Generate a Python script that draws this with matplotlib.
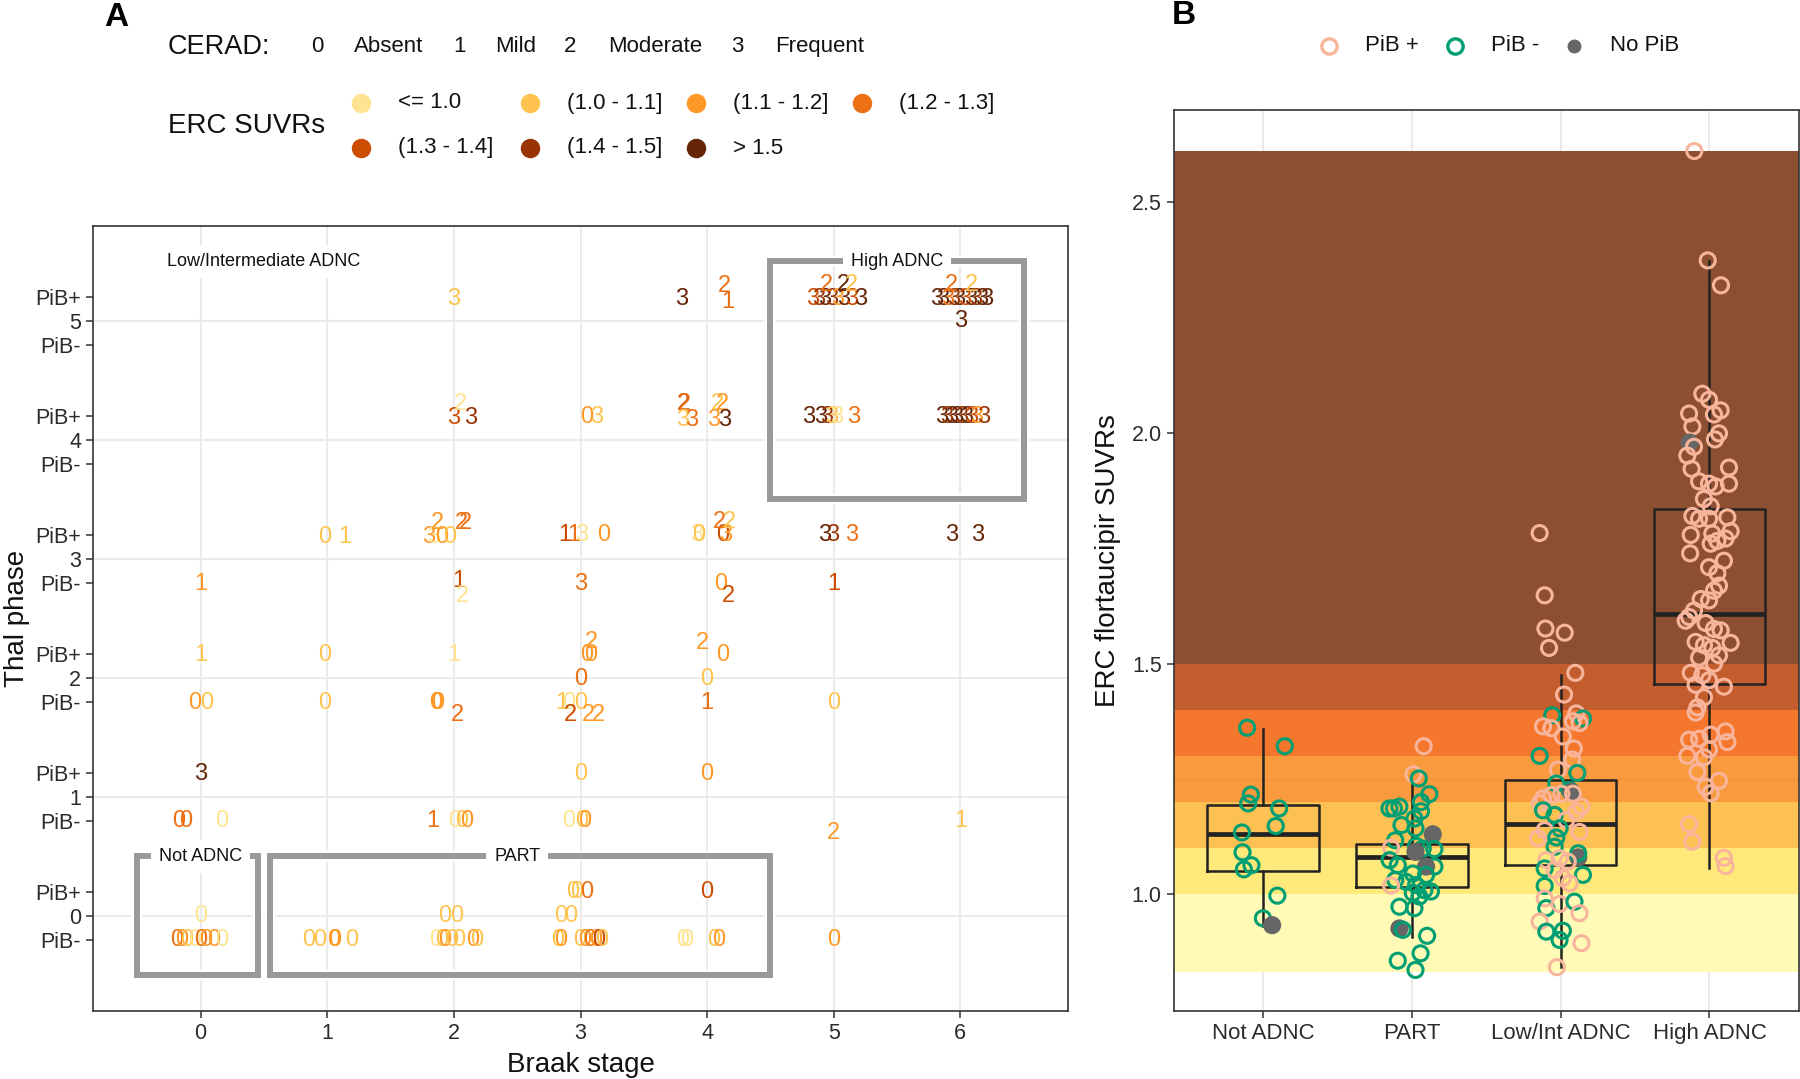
import matplotlib
matplotlib.use('Agg')
import matplotlib.pyplot as plt
from matplotlib.patches import Rectangle
from matplotlib.lines import Line2D

plt.rcParams['font.family'] = ['Liberation Sans', 'DejaVu Sans']

W, H = 1800, 1079

# ---------------- Panel A data ----------------
suvr_bins = ['<= 1.0', '(1.0 - 1.1]', '(1.1 - 1.2]', '(1.2 - 1.3]',
             '(1.3 - 1.4]', '(1.4 - 1.5]', '> 1.5']
suvr_colors = ['#FEE391', '#FEC44F', '#FE9929', '#EC7014',
               '#CC4C02', '#993404', '#662506']
cerad_codes = ['0', '1', '2', '3']
cerad_names = ['Absent', 'Mild', 'Moderate', 'Frequent']
braak_stages = [0, 1, 2, 3, 4, 5, 6]
thal_phases = [0, 1, 2, 3, 4, 5]

# jittered Braak stage, jittered Thal position (phase +0.2 PiB+, -0.2 PiB-), CERAD score, SUVR bin index
a_braak = [
    # Thal 5
    2.00, 3.80, 4.14, 4.16,
    4.83, 4.88, 4.93, 4.98, 5.03, 5.08, 5.14, 5.21, 4.94, 5.075, 5.14,
    5.81, 5.86, 5.90, 5.95, 5.99, 6.03, 6.08, 6.12, 6.17, 6.21, 5.93, 6.09, 6.00,
    # Thal 4
    2.00, 2.13, 2.05, 3.05, 3.13,
    3.81, 3.82, 3.81, 3.88, 4.08, 4.12, 4.05, 4.14,
    4.80, 4.90, 4.94, 4.98, 5.02, 5.16,
    5.85, 5.89, 5.93, 5.97, 6.01, 6.05, 6.09, 6.13, 6.18,
    # Thal 3
    0.98, 1.14, 1.80, 1.84, 1.90, 1.97, 1.87, 2.06, 2.09,
    2.88, 2.95, 3.01, 3.18, 3.92, 3.93, 4.12, 4.15, 4.10, 4.18,
    4.93, 4.99, 5.14, 5.93, 6.14,
    0.00, 2.04, 2.07, 3.00, 4.11, 4.17, 5.00,
    # Thal 2
    0.00, 0.98, 2.00, 3.09, 3.05, 3.08, 3.96, 4.12,
    3.00, 4.00,
    -0.05, 0.05, 0.98, 1.86, 1.87, 2.03, 2.85, 2.91, 3.00, 2.92, 3.06, 3.14, 4.00, 5.00,
    # Thal 1
    0.00, 3.00, 4.00,
    -0.17, -0.12, 0.17, 1.83, 2.01, 2.06, 2.10, 2.91, 3.01, 3.03, 5.00, 6.00,
    # Thal 0
    2.94, 2.97, 3.05, 4.00,
    0.00, 1.93, 2.02, 2.84, 2.92,
    -0.19, -0.15, -0.11, -0.05, 0.00, 0.04, 0.10, 0.17,
    0.85, 0.94, 1.05, 1.06, 1.19,
    1.86, 1.90, 1.93, 1.98, 2.04, 2.15, 2.18,
    2.82, 2.84, 2.99, 3.03, 3.07, 3.12, 3.14, 3.17,
    3.81, 3.84, 4.05, 4.09, 5.00,
]
a_thal = [
    5.18, 5.18, 5.29, 5.16,
    5.18, 5.18, 5.18, 5.18, 5.18, 5.18, 5.18, 5.18, 5.30, 5.30, 5.30,
    5.18, 5.18, 5.18, 5.18, 5.18, 5.18, 5.18, 5.18, 5.18, 5.18, 5.30, 5.30, 5.00,
    4.18, 4.18, 4.30, 4.19, 4.19,
    4.30, 4.30, 4.17, 4.17, 4.30, 4.30, 4.17, 4.17,
    4.19, 4.19, 4.19, 4.19, 4.19, 4.19,
    4.19, 4.19, 4.19, 4.19, 4.19, 4.19, 4.19, 4.19, 4.19,
    3.18, 3.18, 3.18, 3.18, 3.18, 3.18, 3.30, 3.30, 3.30,
    3.20, 3.20, 3.20, 3.20, 3.20, 3.20, 3.20, 3.20, 3.31, 3.31,
    3.20, 3.20, 3.20, 3.20, 3.20,
    2.79, 2.81, 2.69, 2.79, 2.79, 2.69, 2.79,
    2.19, 2.19, 2.19, 2.30, 2.19, 2.19, 2.29, 2.19,
    1.99, 1.99,
    1.79, 1.79, 1.79, 1.79, 1.79, 1.69, 1.79, 1.79, 1.79, 1.69, 1.69, 1.69, 1.79, 1.79,
    1.19, 1.19, 1.19,
    0.795, 0.795, 0.795, 0.795, 0.795, 0.795, 0.795, 0.795, 0.795, 0.795, 0.70, 0.795,
    0.20, 0.20, 0.20, 0.20,
    0.00, 0.00, 0.00, 0.00, 0.00,
    -0.20, -0.20, -0.20, -0.20, -0.20, -0.20, -0.20, -0.20,
    -0.20, -0.20, -0.20, -0.20, -0.20,
    -0.20, -0.20, -0.20, -0.20, -0.20, -0.20, -0.20,
    -0.20, -0.20, -0.20, -0.20, -0.20, -0.20, -0.20, -0.20,
    -0.20, -0.20, -0.20, -0.20, -0.20,
]
a_cerad = [
    3, 3, 2, 1,
    3, 3, 3, 3, 3, 3, 3, 3, 2, 2, 2,
    3, 3, 3, 3, 3, 3, 3, 3, 3, 3, 2, 2, 3,
    3, 3, 2, 0, 3,
    2, 2, 3, 3, 2, 2, 3, 3,
    3, 3, 3, 3, 3, 3,
    3, 3, 3, 3, 3, 3, 3, 3, 3,
    0, 1, 3, 3, 0, 0, 2, 2, 2,
    1, 1, 3, 0, 3, 0, 0, 3, 2, 2,
    3, 3, 3, 3, 3,
    1, 1, 2, 3, 0, 2, 1,
    1, 0, 1, 2, 0, 0, 2, 0,
    0, 0,
    0, 0, 0, 0, 0, 2, 1, 0, 0, 2, 2, 2, 1, 0,
    3, 0, 0,
    0, 0, 0, 1, 0, 0, 0, 0, 0, 0, 2, 1,
    0, 0, 0, 0,
    0, 0, 0, 0, 0,
    0, 0, 0, 0, 0, 0, 0, 0,
    0, 0, 0, 0, 0,
    0, 0, 0, 0, 0, 0, 0,
    0, 0, 0, 0, 0, 0, 0, 0,
    0, 0, 0, 0, 0,
]
a_bin = [
    1, 6, 3, 3,
    4, 5, 6, 5, 2, 6, 4, 6, 3, 6, 1,
    6, 6, 3, 5, 6, 4, 6, 5, 6, 6, 3, 1, 6,
    4, 5, 0, 2, 1,
    4, 3, 1, 3, 1, 2, 2, 6,
    6, 6, 5, 1, 0, 3,
    6, 5, 6, 6, 5, 6, 4, 2, 5,
    1, 1, 2, 0, 2, 1, 2, 3, 3,
    4, 3, 0, 2, 0, 1, 4, 2, 3, 1,
    6, 5, 3, 6, 6,
    2, 4, 0, 3, 2, 4, 4,
    1, 1, 0, 2, 2, 2, 2, 2,
    3, 1,
    2, 1, 1, 2, 2, 3, 1, 0, 1, 4, 2, 2, 3, 1,
    6, 1, 2,
    3, 3, 0, 3, 0, 1, 2, 0, 1, 2, 2, 1,
    1, 1, 3, 4,
    0, 1, 1, 1, 1,
    3, 2, 1, 0, 3, 2, 2, 0,
    1, 1, 2, 2, 1,
    0, 1, 2, 1, 1, 2, 1,
    1, 2, 1, 2, 3, 2, 4, 1,
    0, 0, 1, 2, 2,
]

# Neuropathology regions drawn as boxes: name, x0, x1, y0, y1, outline shown
region_names = ['Low/Intermediate ADNC', 'High ADNC', 'Not ADNC', 'PART']
region_x0 = [-0.5, 4.5, -0.5, 0.55]
region_x1 = [4.5, 6.5, 0.45, 4.5]
region_y0 = [0.5, 3.5, -0.5, -0.5]
region_y1 = [5.5, 5.5, 0.5, 0.5]
region_outline = [False, True, True, True]
region_label_x = [0.5, 5.5, 0.0, 2.5]

# ---------------- Panel B data ----------------
groups = ['Not ADNC', 'PART', 'Low/Int ADNC', 'High ADNC']
pib_names = ['PiB +', 'PiB -', 'No PiB']
pib_colors = ['#F9B59B', '#009E73', '#666666']

b_not_dx = [-0.106, 0.147, -0.081, -0.099, 0.109, 0.086, -0.141, -0.137, -0.077, -0.128, 0.097, 0.000, 0.062]
b_not_v = [1.361, 1.321, 1.216, 1.197, 1.186, 1.148, 1.134, 1.091, 1.063, 1.054, 0.997, 0.948, 0.933]
b_not_pib = [1, 1, 1, 1, 1, 1, 1, 1, 1, 1, 1, 1, 2]

b_part_dx = [0.080, 0.011, 0.047, 0.118, 0.062, -0.083, 0.062, 0.018, -0.069, 0.025, 0.141, -0.111,
             -0.139, 0.029, 0.074, 0.025, 0.152, -0.149, -0.094, 0.152, 0.096, 0.007, 0.096, -0.111,
             -0.038, -0.139, 0.029, 0.085, 0.129, 0.007, 0.051, -0.083, 0.018, -0.083, -0.060,
             0.103, 0.059, -0.094, 0.025, -0.120, -0.150]
b_part_v = [1.321, 1.260, 1.251, 1.217, 1.200, 1.190, 1.180, 1.164, 1.150, 1.143, 1.130, 1.117,
            1.101, 1.105, 1.099, 1.092, 1.098, 1.074, 1.063, 1.060, 1.060, 1.045, 1.042, 1.031,
            1.027, 1.019, 1.020, 1.009, 1.006, 1.003, 0.995, 0.973, 0.970, 0.926, 0.923,
            0.910, 0.872, 0.856, 0.836, 1.186, 1.186]
b_part_pib = [0, 0, 1, 1, 1, 1, 1, 1, 1, 1, 2, 1,
              0, 1, 1, 2, 1, 1, 1, 1, 2, 1, 1, 1,
              1, 0, 1, 1, 1, 1, 1, 1, 1, 2, 1,
              1, 1, 1, 1, 1, 1]

b_low_dx = [-0.141, -0.107, -0.102, 0.027, -0.078, 0.099, 0.023, -0.056, 0.105, 0.150, -0.118, -0.062,
            0.083, 0.127, 0.015, 0.089, -0.141, 0.078, -0.018, 0.112, -0.029, 0.060, 0.071, -0.118,
            -0.062, 0.005, 0.083, 0.140, -0.141, -0.118, 0.105, -0.040, 0.038, -0.007, -0.107, 0.127,
            -0.152, -0.029, -0.040, 0.118, 0.118, -0.096, -0.007, 0.048, -0.107, -0.040, 0.150, 0.015,
            0.060, -0.107, -0.107, -0.096, -0.007, 0.093, 0.127, -0.141, -0.096, 0.015, -0.007, 0.140,
            -0.025]
b_low_v = [1.783, 1.648, 1.576, 1.567, 1.534, 1.480, 1.433, 1.388, 1.392, 1.381, 1.364, 1.360,
           1.375, 1.371, 1.342, 1.316, 1.300, 1.292, 1.270, 1.263, 1.240, 1.226, 1.222, 1.208,
           1.215, 1.218, 1.218, 1.190, 1.197, 1.182, 1.179, 1.172, 1.161, 1.143, 1.139, 1.135,
           1.121, 1.123, 1.103, 1.080, 1.089, 1.074, 1.078, 1.071, 1.056, 1.053, 1.042, 1.035,
           1.024, 1.018, 0.991, 0.970, 0.979, 0.984, 0.959, 0.941, 0.919, 0.921, 0.901, 0.894,
           0.842]
b_low_pib = [0, 0, 0, 0, 0, 0, 0, 1, 0, 1, 0, 0,
             0, 0, 0, 0, 1, 0, 0, 1, 1, 1, 2, 0,
             0, 0, 0, 0, 0, 1, 0, 1, 0, 1, 0, 0,
             0, 1, 1, 2, 1, 0, 0, 0, 1, 0, 1, 0,
             0, 1, 0, 1, 0, 1, 0, 0, 1, 1, 1, 0,
             0]

b_high_dx = [-0.102, -0.012, 0.077, -0.048, -0.003, -0.137, 0.075, 0.030, -0.115, 0.064, 0.037, -0.133,
             -0.104, -0.149, 0.131, -0.120, 0.131, -0.070, -0.003, 0.041, -0.037, 0.008, -0.115, -0.070,
             0.120, -0.003, 0.142, -0.126, 0.019, 0.053, 0.108, 0.008, -0.130, 0.097, -0.003, 0.053,
             0.064, 0.030, -0.059, -0.104, -0.003, -0.137, -0.160, -0.026, 0.030, 0.075, 0.142, -0.093,
             -0.037, 0.019, -0.070, 0.064, 0.030, -0.126, -0.048, -0.003, -0.093, 0.097, -0.037, -0.081,
             -0.093, -0.137, -0.070, 0.008, 0.108, 0.120, -0.003, -0.149, -0.037, -0.081, 0.064, -0.026,
             0.008, -0.137, -0.115, 0.097, 0.108]
b_high_v = [2.611, 2.374, 2.320, 2.085, 2.072, 2.042, 2.049, 2.040, 2.014, 1.999, 1.986, 1.979,
            1.970, 1.951, 1.925, 1.922, 1.890, 1.895, 1.890, 1.884, 1.857, 1.841, 1.820, 1.814,
            1.817, 1.814, 1.787, 1.779, 1.782, 1.766, 1.771, 1.760, 1.739, 1.723, 1.709, 1.696,
            1.669, 1.658, 1.640, 1.615, 1.637, 1.601, 1.593, 1.588, 1.575, 1.572, 1.545, 1.547,
            1.540, 1.534, 1.513, 1.518, 1.500, 1.480, 1.475, 1.464, 1.454, 1.450, 1.427, 1.405,
            1.394, 1.335, 1.337, 1.346, 1.353, 1.330, 1.314, 1.300, 1.297, 1.265, 1.246, 1.233,
            1.219, 1.152, 1.114, 1.079, 1.061]
b_high_pib = [0] * 11 + [2] + [0] * 65

# box statistics per group (lower whisker, Q1, median, Q3, upper whisker)
box_whislo = [0.931, 0.907, 0.842, 1.056]
box_q1 = [1.050, 1.015, 1.063, 1.456]
box_med = [1.130, 1.081, 1.153, 1.607]
box_q3 = [1.193, 1.108, 1.247, 1.836]
box_whishi = [1.358, 1.238, 1.475, 2.373]

# SUVR background bands
band_edges = [0.832, 1.0, 1.1, 1.2, 1.3, 1.4, 1.5, 2.611]
band_colors = ['#FFFBB7', '#FEE97A', '#FDC153', '#FA9A3E', '#F4772D', '#C35D2D', '#8D4F31']

# ---------------- Figure ----------------
fig = plt.figure(figsize=(W / 100, H / 100), dpi=100)
fig.patch.set_facecolor('white')

def fx(px):
    return px / W

def fy(py):
    return 1 - py / H

axA = fig.add_axes([fx(93), fy(1011), fx(1068) - fx(93), fy(225.7) - fy(1011)])
axB = fig.add_axes([fx(1173.6), fy(1011), fx(1798.8) - fx(1173.6), fy(110) - fy(1011)])

frame_col = '#333333'
tick_col = '#2b2b2b'
grid_col = '#EBEBEB'

for ax in (axA, axB):
    for sp in ax.spines.values():
        sp.set_color(frame_col)
        sp.set_linewidth(1.2)
    ax.tick_params(colors=frame_col, labelcolor=tick_col, length=5, width=1.1, labelsize=15.5)

# ---- Panel A ----
axA.set_xlim(-0.85, 6.85)
axA.set_ylim(-0.8, 5.8)
for b in braak_stages:
    axA.axvline(b, color=grid_col, lw=1.5, zorder=0)
for p in thal_phases:
    axA.axhline(p, color=grid_col, lw=1.5, zorder=0)

yt, ytl = [], []
for p in thal_phases:
    yt += [p - 0.2, p, p + 0.2]
    ytl += ['PiB-', str(p), 'PiB+']
axA.set_yticks(yt)
axA.set_yticklabels(ytl)
axA.set_xticks(braak_stages)
axA.set_xticklabels([str(b) for b in braak_stages])
axA.set_xlabel('Braak stage', fontsize=20, color='#111111', labelpad=6)
axA.set_ylabel('Thal phase', fontsize=20, color='#111111', labelpad=4)

for name, x0, x1, y0, y1, outl, lx in zip(region_names, region_x0, region_x1,
                                          region_y0, region_y1, region_outline, region_label_x):
    if outl:
        axA.add_patch(Rectangle((x0, y0), x1 - x0, y1 - y0, fill=False, ec='white',
                                lw=7.5, joinstyle='miter', zorder=1))
        axA.add_patch(Rectangle((x0, y0), x1 - x0, y1 - y0, fill=False, ec='#999999',
                                lw=4.3, joinstyle='miter', zorder=2))
    axA.text(lx, y1, name, ha='center', va='center', fontsize=13, color='#111111', zorder=3,
             bbox=dict(boxstyle='square,pad=0.45', fc='white', ec='none'))

for xb, yt_, c, b in zip(a_braak, a_thal, a_cerad, a_bin):
    axA.text(xb, yt_, cerad_codes[c], ha='center', va='center', fontsize=17,
             color=suvr_colors[b], zorder=4)

# ---- Panel B ----
axB.set_xlim(0.4, 4.6)
axB.set_ylim(0.747, 2.70)
for i in range(len(groups)):
    axB.axvline(i + 1, color=grid_col, lw=1.5, zorder=0)
for lo, hi, col in zip(band_edges[:-1], band_edges[1:], band_colors):
    axB.axhspan(lo, hi, color=col, lw=0, zorder=1)
axB.axhline(1.25, color='#F08A35', lw=1.0, alpha=0.5, zorder=1.1)

stats = []
for i, g in enumerate(groups):
    stats.append(dict(label=g, whislo=box_whislo[i], q1=box_q1[i], med=box_med[i],
                      q3=box_q3[i], whishi=box_whishi[i], fliers=[]))
axB.bxp(stats, positions=[1, 2, 3, 4], widths=0.75, showcaps=False, showfliers=False,
        patch_artist=False,
        boxprops=dict(color='#222222', lw=1.8),
        whiskerprops=dict(color='#222222', lw=1.8),
        medianprops=dict(color='#222222', lw=3.4), zorder=2)

xs, ys, ecs, fcs = [], [], [], []
for gi, (dxl, vl, pl) in enumerate([(b_not_dx, b_not_v, b_not_pib),
                                    (b_part_dx, b_part_v, b_part_pib),
                                    (b_low_dx, b_low_v, b_low_pib),
                                    (b_high_dx, b_high_v, b_high_pib)]):
    for dx, v, p in zip(dxl, vl, pl):
        xs.append(gi + 1 + dx)
        ys.append(v)
        ecs.append(pib_colors[p])
        fcs.append(pib_colors[p] if p == 2 else 'none')
axB.scatter(xs, ys, s=118, facecolors=fcs, edgecolors=ecs, linewidths=2.2, zorder=3)

axB.set_xticks([1, 2, 3, 4])
axB.set_xticklabels(groups)
axB.set_yticks([1.0, 1.5, 2.0, 2.5])
axB.set_yticklabels(['1.0', '1.5', '2.0', '2.5'])
axB.set_ylabel('ERC flortaucipir SUVRs', fontsize=20, color='#111111', labelpad=8)
axB.tick_params(axis='x', labelsize=16)
axB.tick_params(axis='y', labelsize=15.5)

# ---- Panel labels ----
fig.text(fx(104), fy(17), 'A', fontsize=24, fontweight='bold', ha='left', va='center')
fig.text(fx(1171.5), fy(15), 'B', fontsize=24, fontweight='bold', ha='left', va='center')

# ---- Legend A: CERAD ----
fig.text(fx(168), fy(46.7), 'CERAD:', fontsize=19.5, ha='left', va='center', color='#111111')
cerad_code_x = [317, 460, 570, 737]
cerad_name_x = [354, 495, 608, 775]
for code, nm, cx, nx in zip(cerad_codes, cerad_names, cerad_code_x, cerad_name_x):
    fig.text(fx(cx), fy(46.7), code, fontsize=16, ha='center', va='center', color='#111111')
    fig.text(fx(nx), fy(46.7), nm, fontsize=16, ha='left', va='center', color='#111111')

# ---- Legend A: ERC SUVRs ----
fig.text(fx(168), fy(126), 'ERC SUVRs', fontsize=20, ha='left', va='center', color='#111111')
leg_col_x = [361, 530, 696, 862]
leg_row_y = [103, 148]
for i, (lab, col) in enumerate(zip(suvr_bins, suvr_colors)):
    r, c = divmod(i, 4)
    cx, cy = leg_col_x[c], leg_row_y[r]
    fig.add_artist(Line2D([fx(cx)], [fy(cy)], marker='o', ms=13, mfc=col, mec=col,
                          ls='none', transform=fig.transFigure))
    fig.text(fx(cx + 37), fy(cy), lab, fontsize=16, ha='left', va='center', color='#111111')

# ---- Legend B ----
legB_x = [1329, 1454.7, 1573.7]
for i, (nm, col) in enumerate(zip(pib_names, pib_colors)):
    if i < 2:
        fig.add_artist(Line2D([fx(legB_x[i])], [fy(45.7)], marker='o', ms=11, mfc='none',
                              mec=col, mew=2.4, ls='none', transform=fig.transFigure))
    else:
        fig.add_artist(Line2D([fx(legB_x[i])], [fy(45.7)], marker='o', ms=9, mfc=col,
                              mec=col, ls='none', transform=fig.transFigure))
    fig.text(fx(legB_x[i] + 36), fy(45.7), nm, fontsize=16, ha='left', va='center', color='#111111')

fig.savefig('out.png', dpi=100, facecolor='white')
